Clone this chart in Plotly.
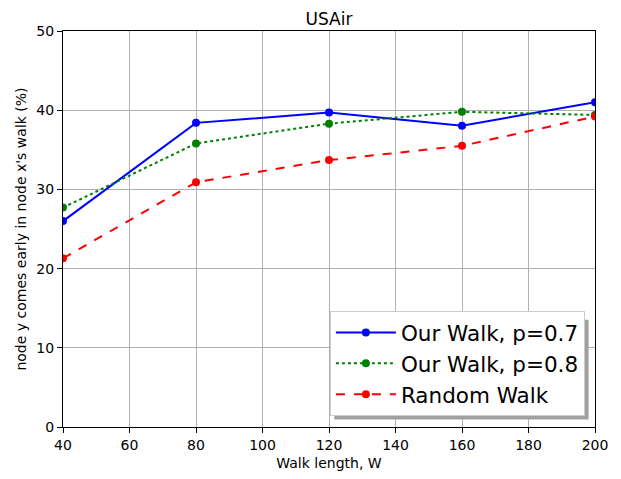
import plotly.graph_objects as go

walk_length = [40, 80, 120, 160, 200]
our_walk_p07 = [26.0, 38.4, 39.7, 38.05, 41.0]
our_walk_p08 = [27.7, 35.8, 38.3, 39.8, 39.4]
random_walk = [21.3, 30.9, 33.7, 35.5, 39.2]

x_ticks = [40, 60, 80, 100, 120, 140, 160, 180, 200]
y_ticks = [0, 10, 20, 30, 40, 50]

FONT = "DejaVu Sans"

fig = go.Figure()
fig.add_trace(go.Scatter(x=walk_length, y=our_walk_p07, mode="lines+markers",
                         name="Our Walk, p=0.7",
                         line=dict(color="blue", width=2, dash="solid"),
                         marker=dict(color="blue", size=8)))
fig.add_trace(go.Scatter(x=walk_length, y=our_walk_p08, mode="lines+markers",
                         name="Our Walk, p=0.8",
                         line=dict(color="green", width=2, dash="dot"),
                         marker=dict(color="green", size=8)))
fig.add_trace(go.Scatter(x=walk_length, y=random_walk, mode="lines+markers",
                         name="Random Walk",
                         line=dict(color="red", width=2, dash="dash"),
                         marker=dict(color="red", size=8)))

axis_common = dict(showgrid=True, gridcolor="#b0b0b0", gridwidth=1,
                   showline=True, linecolor="black", linewidth=1, mirror=True,
                   ticks="outside", ticklen=5, tickcolor="black",
                   tickfont=dict(family=FONT, size=14, color="black"),
                   zeroline=False)

fig.update_layout(
    width=621, height=479,
    margin=dict(l=55, r=34, t=23, b=60),
    paper_bgcolor="white", plot_bgcolor="white",
    font=dict(family=FONT, color="black"),
    title=dict(text="USAir", x=0.5, xref="paper", y=1, yref="paper", yanchor="bottom",
               pad=dict(b=6), font=dict(family=FONT, size=17, color="black")),
    xaxis=dict(range=[40, 200], tickvals=x_ticks,
               title=dict(text="Walk length, W", font=dict(family=FONT, size=14), standoff=6),
               **axis_common),
    yaxis=dict(range=[0, 50], tickvals=y_ticks,
               title=dict(text="node y comes early in node x's walk (%)", font=dict(family=FONT, size=14), standoff=6),
               **axis_common),
    legend=dict(x=0.981, y=0.028, xanchor="right", yanchor="bottom",
                bgcolor="white", bordercolor="#cccccc", borderwidth=1,
                font=dict(family=FONT, size=21.5, color="black"),
                itemwidth=60, tracegroupgap=0),
    showlegend=True,
)

fig.add_shape(type="rect", xref="paper", yref="paper",
              x0=0.981 - 0.478 + 0.007, x1=0.981 + 0.007,
              y0=0.028 - 0.009, y1=0.028 + 0.252 - 0.009,
              fillcolor="#a0a0a0", line=dict(width=0), layer="above")

fig.write_html("out.html")
